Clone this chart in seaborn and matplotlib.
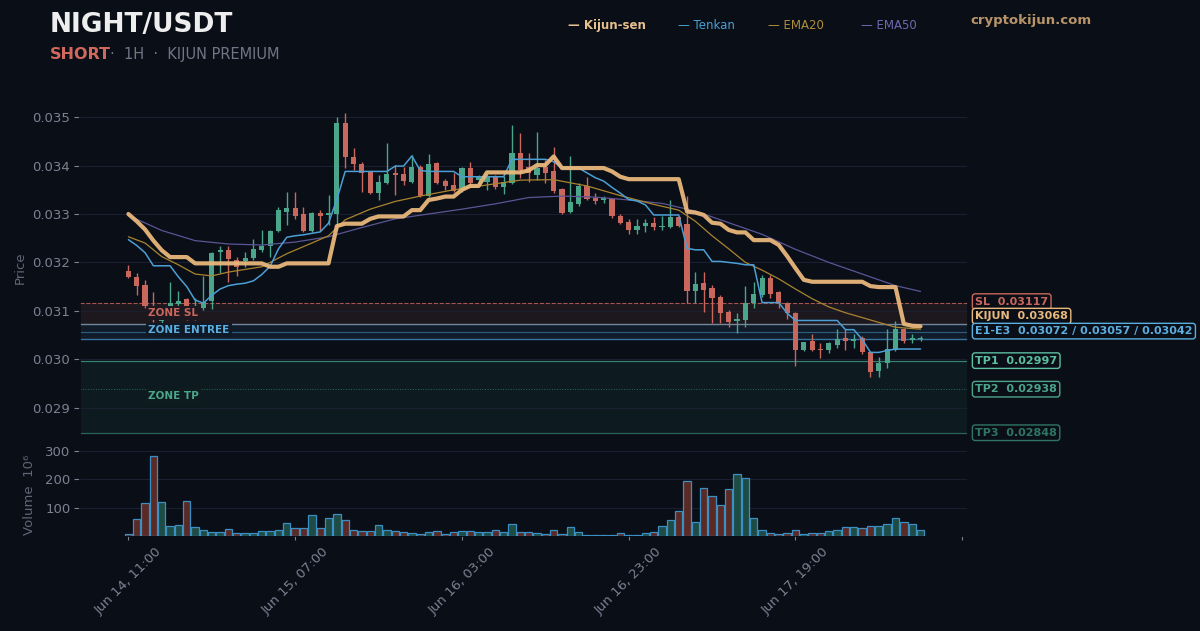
import numpy as np
import seaborn as sns
import pandas as pd
import matplotlib.pyplot as plt

# ---- data (1H candles, index 0 = Jun 14 11:00) ----
opens = [0.03183, 0.03169, 0.03154, 0.03110, 0.03078, 0.03105, 0.03114, 0.03124, 0.03102, 0.03105,
         0.03121, 0.03221, 0.03226, 0.03204, 0.03202, 0.03209, 0.03226, 0.03233, 0.03264, 0.03305,
         0.03313, 0.03300, 0.03264, 0.03302, 0.03298, 0.03300, 0.03488, 0.03417, 0.03404, 0.03386,
         0.03343, 0.03365, 0.03384, 0.03382, 0.03367, 0.03398, 0.03337, 0.03406, 0.03368, 0.03360,
         0.03350, 0.03395, 0.03370, 0.03367, 0.03377, 0.03355, 0.03365, 0.03427, 0.03398, 0.03381,
         0.03397, 0.03388, 0.03352, 0.03305, 0.03321, 0.03357, 0.03333, 0.03328, 0.03331, 0.03296,
         0.03284, 0.03266, 0.03275, 0.03282, 0.03273, 0.03274, 0.03293, 0.03280, 0.03140, 0.03157,
         0.03147, 0.03129, 0.03098, 0.03078, 0.03081, 0.03117, 0.03133, 0.03167, 0.03138, 0.03117,
         0.03096, 0.03019, 0.03037, 0.03021, 0.03018, 0.03030, 0.03043, 0.03038, 0.03043, 0.03014,
         0.02976, 0.02992, 0.03019, 0.03062, 0.03040, 0.03041]
highs = [0.03195, 0.03178, 0.03164, 0.03138, 0.03096, 0.03160, 0.03140, 0.03126, 0.03126, 0.03171,
         0.03222, 0.03234, 0.03233, 0.03212, 0.03222, 0.03248, 0.03266, 0.03266, 0.03315, 0.03346,
         0.03346, 0.03315, 0.03305, 0.03308, 0.03340, 0.03500, 0.03508, 0.03436, 0.03408, 0.03388,
         0.03381, 0.03446, 0.03401, 0.03398, 0.03422, 0.03401, 0.03424, 0.03408, 0.03373, 0.03384,
         0.03398, 0.03408, 0.03380, 0.03382, 0.03380, 0.03378, 0.03484, 0.03468, 0.03426, 0.03470,
         0.03412, 0.03438, 0.03354, 0.03419, 0.03365, 0.03376, 0.03344, 0.03337, 0.03333, 0.03300,
         0.03289, 0.03289, 0.03289, 0.03293, 0.03296, 0.03328, 0.03296, 0.03337, 0.03181, 0.03181,
         0.03153, 0.03133, 0.03102, 0.03096, 0.03151, 0.03160, 0.03174, 0.03174, 0.03140, 0.03119,
         0.03098, 0.03036, 0.03052, 0.03034, 0.03036, 0.03062, 0.03062, 0.03052, 0.03047, 0.03016,
         0.03005, 0.03062, 0.03078, 0.03064, 0.03052, 0.03047]
lows = [0.03167, 0.03133, 0.03106, 0.03076, 0.03070, 0.03098, 0.03102, 0.03080, 0.03080, 0.03102,
        0.03104, 0.03178, 0.03160, 0.03171, 0.03191, 0.03205, 0.03222, 0.03212, 0.03262, 0.03277,
        0.03290, 0.03262, 0.03262, 0.03264, 0.03277, 0.03267, 0.03395, 0.03391, 0.03346, 0.03342,
        0.03329, 0.03363, 0.03339, 0.03360, 0.03365, 0.03335, 0.03335, 0.03363, 0.03350, 0.03345,
        0.03345, 0.03360, 0.03360, 0.03350, 0.03352, 0.03342, 0.03362, 0.03374, 0.03367, 0.03370,
        0.03364, 0.03344, 0.03300, 0.03303, 0.03317, 0.03329, 0.03321, 0.03323, 0.03291, 0.03279,
        0.03259, 0.03259, 0.03262, 0.03266, 0.03266, 0.03271, 0.03273, 0.03117, 0.03117, 0.03098,
        0.03074, 0.03074, 0.03067, 0.03054, 0.03067, 0.03105, 0.03129, 0.03127, 0.03105, 0.03083,
        0.02985, 0.03017, 0.03016, 0.03002, 0.03013, 0.03023, 0.03019, 0.03023, 0.03011, 0.02963,
        0.02964, 0.02981, 0.03016, 0.03034, 0.03034, 0.03037]
closes = [0.03169, 0.03152, 0.03109, 0.03082, 0.03088, 0.03116, 0.03121, 0.03109, 0.03108, 0.03119,
          0.03220, 0.03226, 0.03207, 0.03191, 0.03209, 0.03227, 0.03233, 0.03264, 0.03308, 0.03312,
          0.03296, 0.03264, 0.03302, 0.03296, 0.03303, 0.03488, 0.03417, 0.03404, 0.03384, 0.03344,
          0.03367, 0.03382, 0.03380, 0.03368, 0.03397, 0.03337, 0.03404, 0.03365, 0.03358, 0.03348,
          0.03395, 0.03364, 0.03377, 0.03377, 0.03355, 0.03367, 0.03427, 0.03391, 0.03384, 0.03395,
          0.03384, 0.03348, 0.03303, 0.03324, 0.03357, 0.03331, 0.03327, 0.03333, 0.03296, 0.03281,
          0.03266, 0.03276, 0.03281, 0.03273, 0.03276, 0.03293, 0.03275, 0.03140, 0.03156, 0.03143,
          0.03126, 0.03096, 0.03076, 0.03083, 0.03117, 0.03135, 0.03167, 0.03134, 0.03116, 0.03096,
          0.03018, 0.03035, 0.03018, 0.03018, 0.03033, 0.03041, 0.03038, 0.03041, 0.03014, 0.02974,
          0.02993, 0.03021, 0.03062, 0.03038, 0.03043, 0.03043]
volumes = [6, 60, 116, 282, 121, 34, 39, 123, 30, 20,
           14, 14, 24, 11, 11, 11, 17, 17, 22, 45,
           27, 27, 73, 27, 62, 79, 58, 21, 19, 18,
           38, 21, 18, 13, 9, 8, 14, 18, 8, 14,
           17, 17, 14, 13, 21, 13, 43, 13, 13, 11,
           8, 22, 6, 30, 14, 2, 2, 2, 5, 9,
           2, 4, 12, 14, 34, 58, 89, 194, 50, 169,
           141, 110, 166, 220, 206, 64, 20, 12, 8, 9,
           20, 7, 9, 9, 17, 21, 30, 30, 27, 34,
           34, 43, 64, 50, 43, 20]

kijun = [0.03300, 0.03285, 0.03268, 0.03245, 0.03225, 0.03211, 0.03211, 0.03211, 0.03198, 0.03198,
         0.03198, 0.03198, 0.03198, 0.03198, 0.03198, 0.03198, 0.03198, 0.03191, 0.03191, 0.03198,
         0.03198, 0.03198, 0.03198, 0.03198, 0.03198, 0.03275, 0.03280, 0.03280, 0.03280, 0.03290,
         0.03295, 0.03295, 0.03295, 0.03295, 0.03308, 0.03308, 0.03329, 0.03332, 0.03336, 0.03336,
         0.03350, 0.03358, 0.03358, 0.03386, 0.03386, 0.03386, 0.03386, 0.03386, 0.03390, 0.03401,
         0.03401, 0.03419, 0.03395, 0.03395, 0.03395, 0.03395, 0.03395, 0.03395, 0.03388, 0.03377,
         0.03372, 0.03372, 0.03372, 0.03372, 0.03372, 0.03372, 0.03372, 0.03305, 0.03303, 0.03298,
         0.03282, 0.03280, 0.03267, 0.03262, 0.03262, 0.03246, 0.03246, 0.03246, 0.03236, 0.03213,
         0.03188, 0.03164, 0.03160, 0.03160, 0.03160, 0.03160, 0.03160, 0.03160, 0.03160, 0.03151,
         0.03149, 0.03149, 0.03149, 0.03073, 0.03069, 0.03068]
tenkan = [0.03247, 0.03235, 0.03220, 0.03193, 0.03193, 0.03193, 0.03170, 0.03150, 0.03122, 0.03116,
          0.03132, 0.03145, 0.03152, 0.03155, 0.03157, 0.03162, 0.03175, 0.03192, 0.03228, 0.03252,
          0.03255, 0.03257, 0.03260, 0.03263, 0.03281, 0.03330, 0.03388, 0.03388, 0.03388, 0.03388,
          0.03388, 0.03388, 0.03399, 0.03399, 0.03420, 0.03390, 0.03388, 0.03388, 0.03388, 0.03388,
          0.03377, 0.03377, 0.03377, 0.03377, 0.03377, 0.03377, 0.03413, 0.03413, 0.03413, 0.03413,
          0.03413, 0.03408, 0.03395, 0.03395, 0.03395, 0.03385, 0.03375, 0.03368, 0.03355, 0.03343,
          0.03330, 0.03327, 0.03319, 0.03298, 0.03298, 0.03298, 0.03298, 0.03229, 0.03226, 0.03226,
          0.03202, 0.03202, 0.03200, 0.03198, 0.03195, 0.03195, 0.03117, 0.03117, 0.03117, 0.03095,
          0.03080, 0.03080, 0.03080, 0.03080, 0.03080, 0.03080, 0.03061, 0.03061, 0.03041, 0.03014,
          0.03014, 0.03018, 0.03021, 0.03021, 0.03021, 0.03021]
ema20_x = [0, 2, 4, 6, 8, 10, 12, 16, 19, 22, 24, 26, 29, 32, 35, 39, 43, 47, 51, 55, 59,
           63, 66, 68, 70, 72, 74, 76, 78, 80, 82, 84, 86, 88, 90, 92, 95]
ema20_y = [0.03253, 0.03240, 0.03212, 0.03195, 0.03176, 0.03172, 0.03180, 0.03191, 0.03218, 0.03240,
           0.03255, 0.03288, 0.03310, 0.03326, 0.03337, 0.03350, 0.03360, 0.03370, 0.03371, 0.03358,
           0.03338, 0.03320, 0.03308, 0.03285, 0.03255, 0.03228, 0.03200, 0.03184, 0.03166, 0.03145,
           0.03125, 0.03108, 0.03096, 0.03086, 0.03076, 0.03066, 0.03062]
ema50_x = [0, 4, 8, 12, 16, 20, 24, 28, 32, 36, 40, 44, 48, 52, 56, 60, 64, 68, 71, 74, 76,
           80, 84, 88, 92, 95]
ema50_y = [0.03297, 0.03266, 0.03245, 0.03238, 0.03236, 0.03242, 0.03253, 0.03272, 0.03290, 0.03300,
           0.03310, 0.03321, 0.03334, 0.03337, 0.03335, 0.03329, 0.03322, 0.03306, 0.03288, 0.03270,
           0.03258, 0.03227, 0.03200, 0.03176, 0.03152, 0.03140]

sl = 0.03117
entries = [0.03072, 0.03057, 0.03042]
tps = [0.02997, 0.02938, 0.02848]
kijun_last = 0.03068
date_ticks = [0, 20, 40, 60, 80, 100]
date_labels = ["Jun 14, 11:00", "Jun 15, 07:00", "Jun 16, 03:00", "Jun 16, 23:00", "Jun 17, 19:00", ""]

# ---- style ----
BG = "#0a0e17"
GRID = "#1a2030"
TXT = "#7b8292"
UP, DOWN = "#4aa58a", "#c9675c"
C_KIJ, C_TEN, C_E20, C_E50 = "#e9b87c", "#4b9fd5", "#a8842f", "#5a5596"

sns.set_theme(style="dark", rc={"axes.facecolor": BG, "figure.facecolor": BG,
                                "axes.edgecolor": BG, "text.color": TXT,
                                "xtick.color": TXT, "ytick.color": TXT,
                                "axes.labelcolor": TXT})
plt.rcParams["font.family"] = ["DejaVu Sans"]

df = pd.DataFrame({"open": opens, "high": highs, "low": lows, "close": closes, "vol": volumes})
df["i"] = np.arange(len(df))
up = df["close"] >= df["open"]
ccol = np.where(up, UP, DOWN)

fig = plt.figure(figsize=(12, 6.31), dpi=100)
ax = fig.add_axes([0.0667, 0.3027, 0.74, 0.5468])
axv = fig.add_axes([0.0667, 0.1506, 0.74, 0.1442], sharex=ax)

# zones
ax.axhspan(entries[0], sl, color="#c9675c", alpha=0.10, lw=0, zorder=0)
ax.axhspan(entries[2], entries[0], color="#4b9fd5", alpha=0.10, lw=0, zorder=0)
ax.axhspan(tps[2], tps[0], color="#2f8f80", alpha=0.10, lw=0, zorder=0)
ax.axhline(sl, color=DOWN, lw=0.8, ls="--", alpha=0.8, zorder=1)
ax.axhline(entries[0], color="#8fa2b8", lw=1.0, alpha=0.8, zorder=1)
ax.axhline(entries[1], color="#4b9fd5", lw=0.8, alpha=0.5, zorder=1)
ax.axhline(entries[2], color="#4b9fd5", lw=1.0, alpha=0.7, zorder=1)
ax.axhline(tps[0], color="#3f9c86", lw=0.9, alpha=0.8, zorder=1)
ax.axhline(tps[1], color="#3f9c86", lw=0.7, ls=":", alpha=0.6, zorder=1)
ax.axhline(tps[2], color="#3f9c86", lw=0.9, alpha=0.6, zorder=1)

# candles
ax.vlines(df["i"], df["low"], df["high"], colors=ccol, lw=1.0, zorder=3)
body_lo = np.minimum(df["open"], df["close"])
body_h = np.maximum(np.abs(df["close"] - df["open"]), 0.000025)
ax.bar(df["i"], body_h, bottom=body_lo, width=0.62, color=ccol, lw=0, zorder=3)

# indicator lines
sns.lineplot(x=ema50_x, y=ema50_y, ax=ax, color=C_E50, lw=0.9, zorder=4)
sns.lineplot(x=ema20_x, y=ema20_y, ax=ax, color=C_E20, lw=0.9, zorder=4)
sns.lineplot(x=df["i"], y=tenkan, ax=ax, color=C_TEN, lw=1.1, zorder=4)
sns.lineplot(x=df["i"], y=kijun, ax=ax, color=C_KIJ, lw=3.0, alpha=0.95, zorder=5,
             solid_joinstyle="round", solid_capstyle="round")

ax.set_xlim(-5.8, 100.7)
ax.set_ylim(0.02833, 0.03546)
ax.set_yticks([0.029, 0.030, 0.031, 0.032, 0.033, 0.034, 0.035])
ax.set_yticklabels(["0.029", "0.030", "0.031", "0.032", "0.033", "0.034", "0.035"])
ax.grid(axis="y", color=GRID, lw=0.8)
ax.grid(axis="x", visible=False)
ax.tick_params(axis="y", labelsize=9.5, length=4, width=0.8, color=TXT, left=True, pad=3)
ax.tick_params(axis="x", bottom=False, labelbottom=False)
ax.set_xlabel("")
ax.set_ylabel("Price", fontsize=9.5, color="#5f6676")
ax.yaxis.set_label_coords(-0.060, 0.5)

# zone labels
zkw = dict(fontsize=7.5, fontweight="bold", va="center", ha="left", zorder=6)
ax.text(2.4, 0.03096, "ZONE SL", color=DOWN, bbox=dict(fc="#1d1720", ec="none", pad=1.5), **zkw)
ax.text(2.4, 0.03061, "ZONE ENTREE", color="#5aaee0", bbox=dict(fc="#0f1a26", ec="none", pad=1.5), **zkw)
ax.text(2.4, 0.02924, "ZONE TP", color="#4aa58a", bbox=dict(fc="#0e1c20", ec="none", pad=1.5), **zkw)

# right-hand level tags
tr = ax.get_yaxis_transform()
tags = [(0.03119, f"SL  {sl:.5f}", DOWN),
        (0.03089, f"KIJUN  {kijun_last:.5f}", C_KIJ),
        (0.03058, "E1-E3  " + " / ".join(f"{e:.5f}" for e in entries), "#5aaee0"),
        (tps[0], f"TP1  {tps[0]:.5f}", "#5cc0a0"),
        (tps[1], f"TP2  {tps[1]:.5f}", "#4aa58a"),
        (tps[2], f"TP3  {tps[2]:.5f}", "#2f7566")]
for y, s, c in tags:
    ax.text(1.008, y, s, transform=tr, color=c, fontsize=8, fontweight="bold", va="center",
            ha="left", clip_on=False,
            bbox=dict(boxstyle="round,pad=0.25", fc=BG, ec=c, lw=1))

# volume
vfill = np.where(up, "#1f4b45", "#5b2a25")
axv.bar(df["i"], df["vol"], width=0.88, color=vfill, edgecolor="#3a8fc4", lw=0.9, zorder=3)
axv.set_ylim(0, 322)
axv.set_yticks([100, 200, 300])
axv.grid(axis="y", color=GRID, lw=0.8)
axv.grid(axis="x", visible=False)
axv.tick_params(axis="y", labelsize=9.5, length=4, width=0.8, color=TXT, left=True, pad=3)
axv.set_xticks(date_ticks)
axv.set_xticklabels(date_labels, rotation=45, fontsize=9.5)
axv.tick_params(axis="x", length=3, width=0.8, color=TXT, bottom=True, pad=4)
axv.set_ylabel("Volume  10\u2076", fontsize=9.5, color="#5f6676")
axv.yaxis.set_label_coords(-0.050, 0.45)

# header
fig.text(0.0417, 0.960, "NIGHT/USDT", color="#eeeeee", fontsize=19, fontweight="bold", va="center")
fig.text(0.0417, 0.914, "SHORT", color="#d0695c", fontsize=11.5, fontweight="bold", va="center")
fig.text(0.0915, 0.914, "\u00b7  1H  \u00b7  KIJUN PREMIUM", color="#6e7585", fontsize=10.5, va="center")

lg = [(0.4733, "\u2014 Kijun-sen", "#e6c08e", "bold"),
      (0.5648, "\u2014 Tenkan", C_TEN, "normal"),
      (0.6403, "\u2014 EMA20", "#b08d3a", "normal"),
      (0.7174, "\u2014 EMA50", "#6e68b0", "normal")]
for x, s, c, w in lg:
    fig.text(x, 0.959, s, color=c, fontsize=8.5, fontweight=w, va="center")
fig.text(0.8089, 0.967, "cryptokijun.com", color="#b89468", fontsize=9.5, fontweight="bold", va="center")

fig.savefig("out.png", dpi=100, facecolor=BG)
